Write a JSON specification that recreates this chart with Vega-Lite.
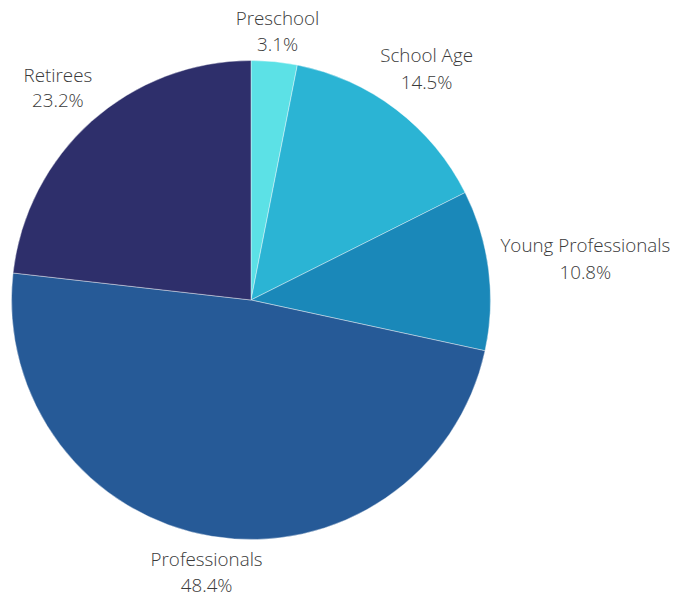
{
  "$schema": "https://vega.github.io/schema/vega-lite/v6.json",
  "autosize": "none",
  "width": 502,
  "height": 588,
  "padding": {"left": 0, "top": 6, "right": 186, "bottom": 0},
  "background": "white",
  "config": {"view": {"stroke": null}},
  "data": {
    "values": [
      {"idx": 1, "category": "Preschool", "share": 3.1},
      {"idx": 2, "category": "School Age", "share": 14.5},
      {"idx": 3, "category": "Young Professionals", "share": 10.8},
      {"idx": 4, "category": "Professionals", "share": 48.4},
      {"idx": 5, "category": "Retirees", "share": 23.2}
    ]
  },
  "transform": [
    {"calculate": "datum.category + '\\n' + format(datum.share, '.1f') + '%'", "as": "label"}
  ],
  "encoding": {
    "theta": {"field": "share", "type": "quantitative", "stack": true},
    "order": {"field": "idx", "type": "quantitative"}
  },
  "layer": [
    {
      "mark": {"type": "arc", "outerRadius": 239.5, "stroke": "#ffffff", "strokeWidth": 0.4},
      "encoding": {
        "color": {
          "field": "category",
          "type": "nominal",
          "scale": {
            "domain": ["Preschool", "School Age", "Young Professionals", "Professionals", "Retirees"],
            "range": ["#5ce1e6", "#2bb4d4", "#1a88b9", "#265a97", "#2e2f6b"]
          },
          "legend": null
        }
      }
    },
    {
      "mark": {"type": "text", "radius": 273, "font": "Open Sans", "fontWeight": 300, "fontSize": 18.8, "color": "#3a3a3a", "lineBreak": "\n", "lineHeight": 26, "dy": -9, "align": "center", "baseline": "middle"},
      "encoding": {
        "text": {"condition": {"test": "datum.category === 'Preschool' || datum.category === 'Professionals'", "field": "label"}, "value": ""}
      }
    },
    {
      "mark": {"type": "text", "radius": 290, "font": "Open Sans", "fontWeight": 300, "fontSize": 18.8, "color": "#3a3a3a", "lineBreak": "\n", "lineHeight": 27, "dy": -13, "align": "center", "baseline": "middle"},
      "encoding": {
        "text": {"condition": {"test": "datum.category === 'School Age'", "field": "label"}, "value": ""}
      }
    },
    {
      "mark": {"type": "text", "radius": 290, "font": "Open Sans", "fontWeight": 300, "fontSize": 18.8, "color": "#3a3a3a", "lineBreak": "\n", "lineHeight": 25, "dy": -8, "align": "center", "baseline": "middle"},
      "encoding": {
        "text": {"condition": {"test": "datum.category === 'Retirees'", "field": "label"}, "value": ""}
      }
    },
    {
      "mark": {"type": "text", "radius": 337, "font": "Open Sans", "fontWeight": 300, "fontSize": 18.8, "color": "#3a3a3a", "lineBreak": "\n", "lineHeight": 27, "dy": -12, "align": "center", "baseline": "middle"},
      "encoding": {
        "text": {"condition": {"test": "datum.category === 'Young Professionals'", "field": "label"}, "value": ""}
      }
    }
  ]
}
